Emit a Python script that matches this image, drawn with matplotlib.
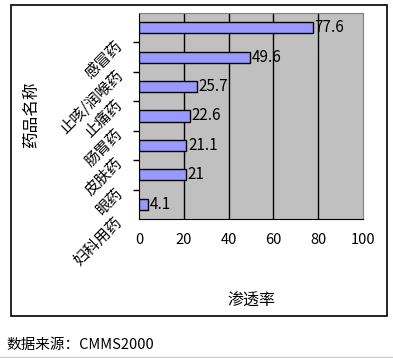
import matplotlib
matplotlib.use("Agg")
import matplotlib.pyplot as plt
import matplotlib.transforms as mtransforms
from matplotlib.patches import Rectangle
from matplotlib.lines import Line2D

plt.rcParams["font.family"] = ["Noto Sans CJK SC", "DejaVu Sans"]

# данные (сверху вниз)
categories = ["感冒药", "止咳/润喉药", "止痛药", "肠胃药", "皮肤药", "眼药", "妇科用药"]
values = [77.6, 49.6, 25.7, 22.6, 21.1, 21, 4.1]
value_labels = ["77.6", "49.6", "25.7", "22.6", "21.1", "21", "4.1"]
x_ticks = [0, 20, 40, 60, 80, 100]

fig = plt.figure(figsize=(3.93, 3.58), dpi=100)
fig.patch.set_facecolor("white")

ax = fig.add_axes([139 / 393, 1 - 219 / 358, 224 / 393, 206 / 358])
ax.set_facecolor("#C0C0C0")

n = len(categories)
pos = list(range(n))
ax.barh(pos, values, height=0.38, color="#9999FF", edgecolor="black", linewidth=1, zorder=3)
for p, v, s in zip(pos, values, value_labels):
    ax.text(v + 0.8, p, s, va="center", ha="left", fontsize=11, zorder=4)

ax.set_ylim(n - 0.5, -0.5)
ax.set_xlim(0, 100)
ax.set_xticks(x_ticks)
ax.set_xticklabels([str(t) for t in x_ticks], fontsize=10.5)
ax.tick_params(axis="x", length=0, pad=10)
for t in x_ticks[1:-1]:
    ax.axvline(t, color="black", linewidth=1, zorder=1)

ax.set_yticks(pos)
ax.set_yticklabels(categories, fontsize=11, rotation=45, ha="right",
                   va="top", rotation_mode="anchor")
ax.tick_params(axis="y", which="major", length=0, pad=16)
# подписи в оригинале чуть ниже тиков
shift = mtransforms.ScaledTranslation(-2 / 72, -7 / 72, fig.dpi_scale_trans)
for lbl in ax.get_yticklabels():
    lbl.set_transform(lbl.get_transform() + shift)
ax.set_yticks([i - 0.5 for i in range(1, n)], minor=True)
ax.tick_params(axis="y", which="minor", length=4, width=1, color="black", direction="out")

ax.spines["left"].set_color("black")
ax.spines["bottom"].set_color("black")
ax.spines["top"].set_color("#808080")
ax.spines["right"].set_color("#808080")

ax.set_xlabel("渗透率", fontsize=11.5)
ax.xaxis.set_label_coords(0.5, -0.36)
fig.text(32 / 393, 1 - 115 / 358, "药品名称", rotation=90, fontsize=12,
         ha="center", va="center")

# внешняя рамка
fig.patches.append(Rectangle((11 / 393, 1 - 316 / 358), 376 / 393, 311 / 358,
                             transform=fig.transFigure, fill=False,
                             edgecolor="black", linewidth=1.2))
fig.text(6 / 393, 1 - 345 / 358, "数据来源：CMMS2000", fontsize=10.5,
         ha="left", va="center")
fig.lines.append(Line2D([0, 1], [1 - 357 / 358] * 2, transform=fig.transFigure,
                        color="#D0D0D0", linewidth=1))

fig.savefig("out.png", dpi=100)
